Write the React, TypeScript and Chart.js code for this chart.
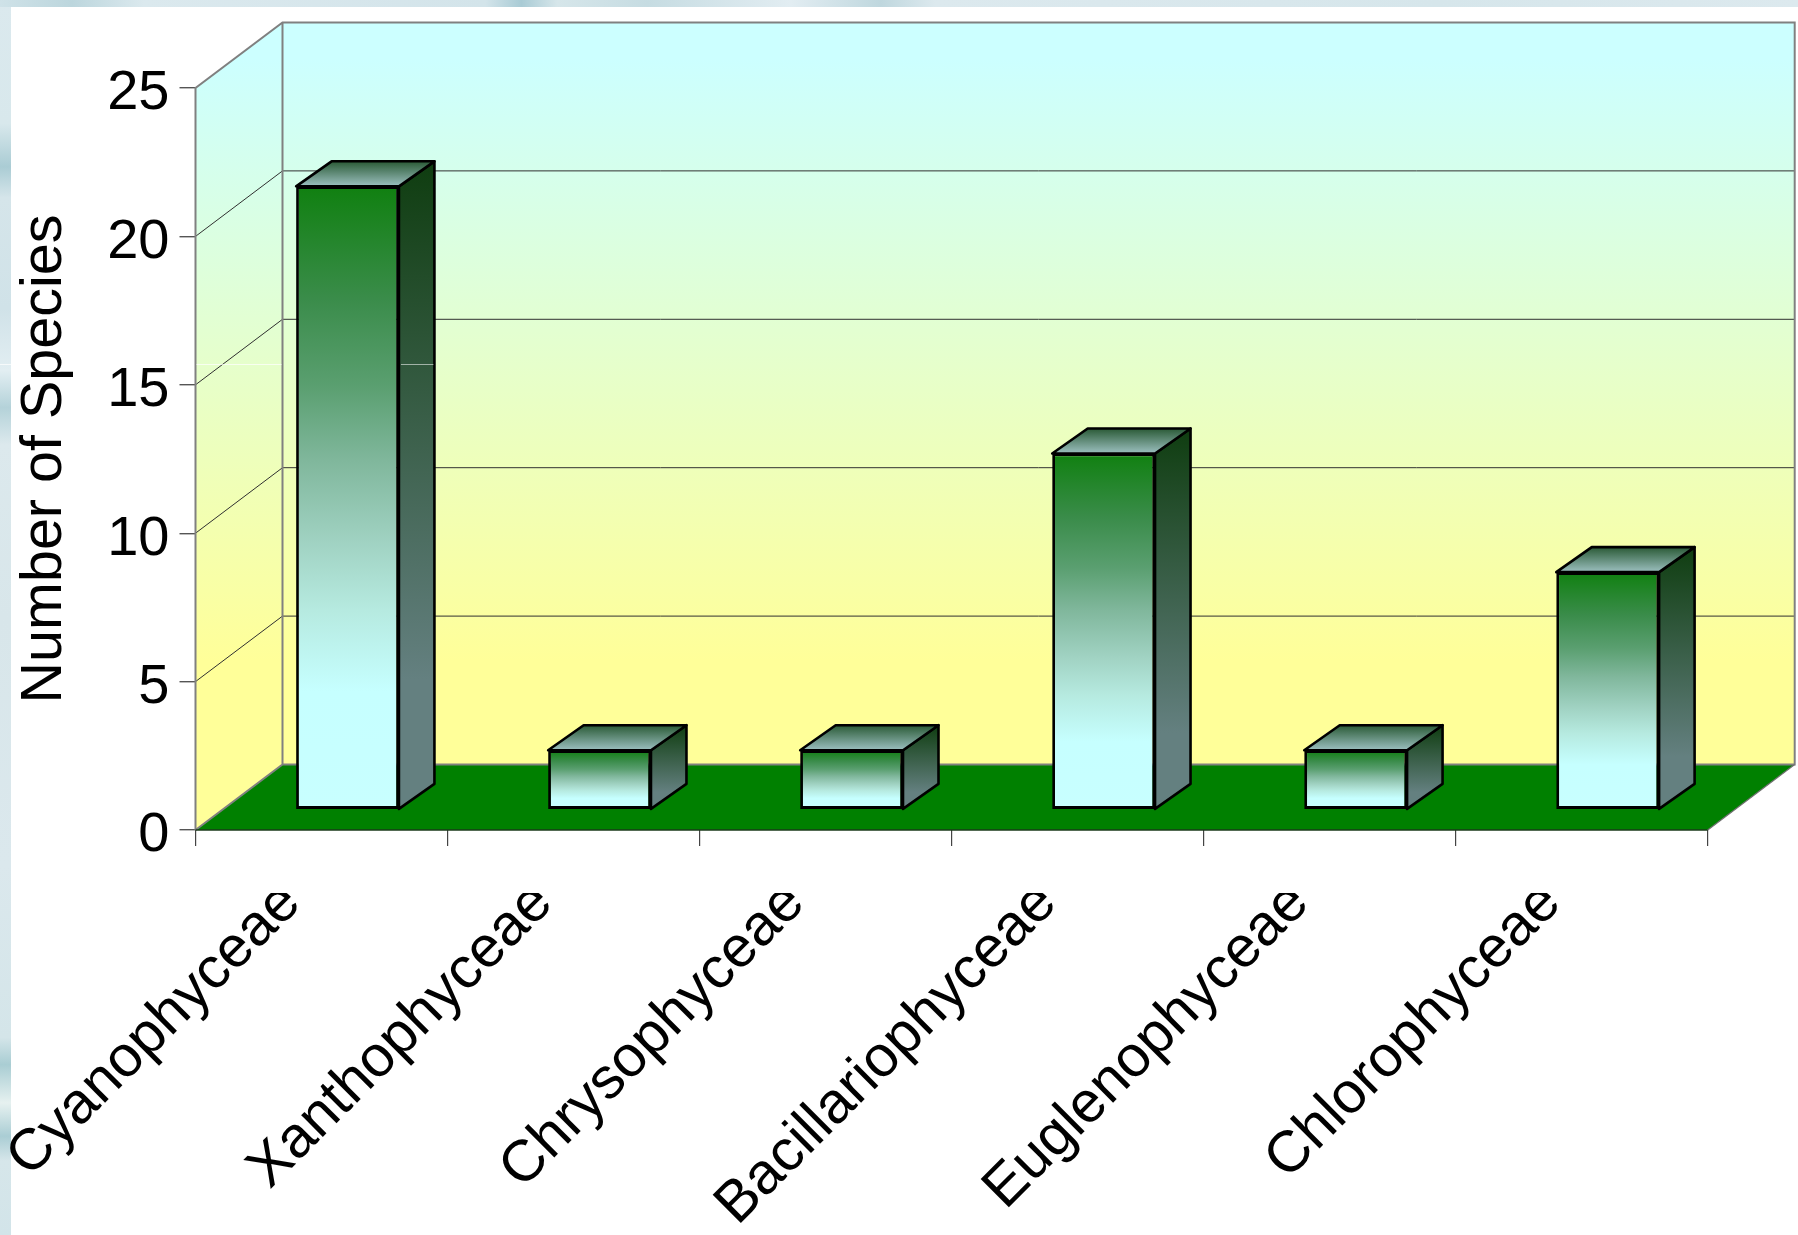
import React, { useEffect, useRef } from "react";
import { Chart, registerables } from "chart.js";

Chart.register(...registerables);

const categories = ["Cyanophyceae", "Xanthophyceae", "Chrysophyceae", "Bacillariophyceae", "Euglenophyceae", "Chlorophyceae"];
const speciesCounts = [21, 2, 2, 12, 2, 8];
const yTickValues = [0, 5, 10, 15, 20, 25];
const yAxisTitle = "Number of Species";

const FONT = "'Liberation Sans', Arial, sans-serif";
const WALL_DX = 87, WALL_DY = -65.5;
const BAR_SHIFT_X = 26, BAR_SHIFT_Y = -20.4;
const BAR_DX = 35.5, BAR_DY = -25;

const barStops: [number, string][] = [
  [0, "#108010"], [0.18, "#3a8c4a"], [0.32, "#5a9f70"], [0.44, "#80b79c"],
  [0.57, "#a0d2c2"], [0.68, "#b6eae0"], [0.81, "#c6ffff"], [1, "#c8ffff"],
];
const leftStrip: [number, string][] = [
  [0, "#dbe9ee"], [0.1, "#d8e8ec"], [0.135, "#aaccd4"], [0.16, "#d5e5ea"], [0.25, "#d0e2e8"],
  [0.3, "#e2eef2"], [0.33, "#b4d2d9"], [0.36, "#dce9ed"], [0.5, "#d8e6ea"], [0.7, "#dbe8ed"],
  [0.84, "#d4e5e9"], [0.862, "#a9cdd3"], [0.893, "#e6f1f0"], [0.92, "#aacdd4"], [0.94, "#d6e6ea"], [1, "#d2e4e9"],
];
const topStrip: [number, string][] = [
  [0, "#cfe2e8"], [0.04, "#bcd6dd"], [0.08, "#dbe9ee"], [0.27, "#d3e4ea"], [0.29, "#a9cbd5"],
  [0.31, "#d6e6ea"], [0.36, "#c6dce2"], [0.44, "#e2edf2"], [0.49, "#bfd7de"], [0.52, "#dce9ee"],
  [0.8, "#d6e6eb"], [1, "#dce9ee"],
];

function poly(ctx: CanvasRenderingContext2D, pts: number[][]) {
  ctx.beginPath();
  pts.forEach((p, i) => (i ? ctx.lineTo(p[0], p[1]) : ctx.moveTo(p[0], p[1])));
  ctx.closePath();
}

const scene = {
  id: "scene",
  beforeDraw(chart: any) {
    const { ctx, width, height } = chart;
    ctx.save();
    const lg = ctx.createLinearGradient(0, 0, 0, height);
    leftStrip.forEach(([o, c]) => lg.addColorStop(o, c));
    ctx.fillStyle = lg;
    ctx.fillRect(0, 0, 11, height);
    const tg = ctx.createLinearGradient(0, 0, width, 0);
    topStrip.forEach(([o, c]) => tg.addColorStop(o, c));
    ctx.fillStyle = tg;
    ctx.fillRect(0, 0, width, 7);
    ctx.fillStyle = "#ffffff";
    ctx.fillRect(11, 7, width - 11, height - 7);
    ctx.restore();
  },
  beforeDatasetsDraw(chart: any) {
    const { ctx, chartArea: a, scales } = chart;
    const { left: L, right: R, top: T, bottom: B } = a;
    ctx.save();
    const wall = ctx.createLinearGradient(0, T + WALL_DY, 0, B + WALL_DY);
    wall.addColorStop(0, "#ccffff");
    wall.addColorStop(0.05, "#ccffff");
    wall.addColorStop(0.86, "#ffff99");
    wall.addColorStop(1, "#ffff99");
    ctx.fillStyle = wall;
    poly(ctx, [[L + WALL_DX, T + WALL_DY], [R + WALL_DX, T + WALL_DY], [R + WALL_DX, B + WALL_DY], [L + WALL_DX, B + WALL_DY]]);
    ctx.fill();
    poly(ctx, [[L, T], [L + WALL_DX, T + WALL_DY], [L + WALL_DX, B + WALL_DY], [L, B]]);
    ctx.fill();

    // gridlines on the side and back walls
    ctx.strokeStyle = "#303030";
    ctx.lineWidth = 1;
    yTickValues.slice(1, -1).forEach((v) => {
      const y = scales.y.getPixelForValue(v);
      ctx.beginPath();
      ctx.moveTo(L, y);
      ctx.lineTo(L + WALL_DX, y + WALL_DY);
      ctx.lineTo(R + WALL_DX, y + WALL_DY);
      ctx.stroke();
    });

    // floor
    ctx.fillStyle = "#008000";
    poly(ctx, [[L, B], [L + WALL_DX, B + WALL_DY], [R + WALL_DX, B + WALL_DY], [R, B]]);
    ctx.fill();

    // wall frame
    ctx.strokeStyle = "#808080";
    ctx.lineWidth = 2;
    ctx.beginPath();
    ctx.moveTo(L, B);
    ctx.lineTo(L, T);
    ctx.lineTo(L + WALL_DX, T + WALL_DY);
    ctx.lineTo(R + WALL_DX, T + WALL_DY);
    ctx.lineTo(R + WALL_DX, B + WALL_DY);
    ctx.lineTo(L + WALL_DX, B + WALL_DY);
    ctx.lineTo(L, B);
    ctx.moveTo(L + WALL_DX, T + WALL_DY);
    ctx.lineTo(L + WALL_DX, B + WALL_DY);
    ctx.stroke();
    ctx.strokeStyle = "#1a3a1a";
    ctx.lineWidth = 1.4;
    ctx.beginPath();
    ctx.moveTo(L, B);
    ctx.lineTo(R, B);
    ctx.stroke();
    ctx.strokeStyle = "#707070";
    ctx.lineWidth = 1.2;
    ctx.beginPath();
    ctx.moveTo(R, B);
    ctx.lineTo(R + WALL_DX, B + WALL_DY);
    ctx.stroke();

    // pale line of the backdrop, seen in the margin and through the side wall
    ctx.strokeStyle = "rgba(255,255,255,0.7)";
    ctx.lineWidth = 1;
    ctx.beginPath();
    ctx.moveTo(0, 364.5);
    ctx.lineTo(11, 364.5);
    ctx.moveTo(L + 1, 364.5);
    ctx.lineTo(L + WALL_DX - 1, 364.5);
    ctx.stroke();
    ctx.restore();
  },
  beforeDatasetDraw(chart: any) {
    chart.ctx.save();
    chart.ctx.translate(BAR_SHIFT_X, BAR_SHIFT_Y);
  },
  afterDatasetDraw(chart: any, args: any) {
    const { ctx } = chart;
    const meta = chart.getDatasetMeta(args.index);
    meta.data.forEach((bar: any, i: number) => {
      const { x, y, base, width } = bar.getProps(["x", "y", "base", "width"], true);
      const r = x + width / 2, l = x - width / 2;
      const side = ctx.createLinearGradient(0, y + BAR_DY, 0, base);
      side.addColorStop(0, "#0f3d10");
      side.addColorStop(0.8, "#648080");
      side.addColorStop(1, "#648080");
      ctx.fillStyle = side;
      poly(ctx, [[r, y], [r + BAR_DX, y + BAR_DY], [r + BAR_DX, base + BAR_DY], [r, base]]);
      ctx.fill();
      ctx.strokeStyle = "#000";
      ctx.lineWidth = 2.6;
      ctx.lineJoin = "round";
      ctx.stroke();
      const topFace = ctx.createLinearGradient(0, y + BAR_DY, 0, y);
      topFace.addColorStop(0, "#2a5a36");
      topFace.addColorStop(1, "#9cc0c0");
      ctx.fillStyle = topFace;
      poly(ctx, [[l, y], [l + BAR_DX, y + BAR_DY], [r + BAR_DX, y + BAR_DY], [r, y]]);
      ctx.fill();
      ctx.stroke();
      if (speciesCounts[i] > 15) {
        ctx.save();
        ctx.strokeStyle = "rgba(255,255,255,0.55)";
        ctx.lineWidth = 1;
        ctx.beginPath();
        ctx.moveTo(r + 2, 364.5 - BAR_SHIFT_Y);
        ctx.lineTo(r + BAR_DX - 1, 364.5 - BAR_SHIFT_Y);
        ctx.stroke();
        ctx.restore();
      }
    });
    ctx.restore();
  },
  afterDraw(chart: any) {
    // the category labels are cut off along their top edge
    const { ctx, width } = chart;
    ctx.save();
    ctx.fillStyle = "#ffffff";
    ctx.fillRect(176, 849, width - 176, 44);
    ctx.restore();
  },
};

export default function App() {
  const ref = useRef<HTMLCanvasElement>(null);
  useEffect(() => {
    document.body.style.margin = "0";
    const canvas = ref.current!;
    const chart = new Chart(canvas, {
      type: "bar",
      data: {
        labels: categories,
        datasets: [
          {
            label: yAxisTitle,
            data: speciesCounts,
            clip: false,
            barPercentage: 0.408,
            categoryPercentage: 1,
            borderColor: "#000000",
            borderWidth: 2.8,
            borderSkipped: false,
            backgroundColor: (c: any) => {
              const ch = c.chart;
              const s = ch.scales && ch.scales.y;
              if (!s || typeof c.raw !== "number") return "#108010";
              const top = s.getPixelForValue(c.raw);
              const bottom = s.getPixelForValue(0);
              if (!Number.isFinite(top) || !Number.isFinite(bottom)) return "#108010";
              const g = ch.ctx.createLinearGradient(0, top, 0, bottom);
              barStops.forEach(([o, col]) => g.addColorStop(o, col));
              return g;
            },
          } as any,
        ],
      },
      plugins: [scene as any],
      options: {
        responsive: false,
        animation: false,
        devicePixelRatio: 1,
        layout: { padding: { top: 88, right: 90.3, left: 0, bottom: 0 } },
        plugins: { legend: { display: false }, tooltip: { enabled: false } },
        scales: {
          x: {
            offset: true,
            afterFit: (s: any) => {
              s.height = 1235 - 830;
              s.paddingLeft = 0;
              s.paddingRight = 0;
            },
            border: { display: false },
            grid: { drawOnChartArea: false, tickLength: 16, color: "#444444", lineWidth: 1.2, offset: true },
            ticks: {
              autoSkip: false,
              maxRotation: 45,
              minRotation: 45,
              padding: 23,
              labelOffset: -30,
              color: "#000000",
              font: { family: FONT, size: 58 },
            },
          },
          y: {
            min: 0,
            max: 25,
            afterFit: (s: any) => {
              s.width = 195.5;
              s.paddingTop = 0;
              s.paddingBottom = 0;
            },
            border: { display: false },
            grid: { drawOnChartArea: false, tickLength: 16, color: "#555555", lineWidth: 1.4 },
            afterBuildTicks: (s: any) => {
              s.ticks = yTickValues.map((value) => ({ value }));
            },
            title: {
              display: true,
              text: yAxisTitle,
              color: "#000000",
              font: { family: FONT, size: 57.5 },
              padding: { top: 11, bottom: 0 },
            },
            ticks: { padding: 10, labelOffset: 6, color: "#000000", font: { family: FONT, size: 56 } },
          },
        },
      },
    } as any);
    return () => chart.destroy();
  }, []);
  return (
    <div style={{ position: "absolute", left: 0, top: 0, width: 1798, height: 1235 }}>
      <canvas ref={ref} width={1798} height={1235} style={{ display: "block", width: 1798, height: 1235 }} />
    </div>
  );
}
